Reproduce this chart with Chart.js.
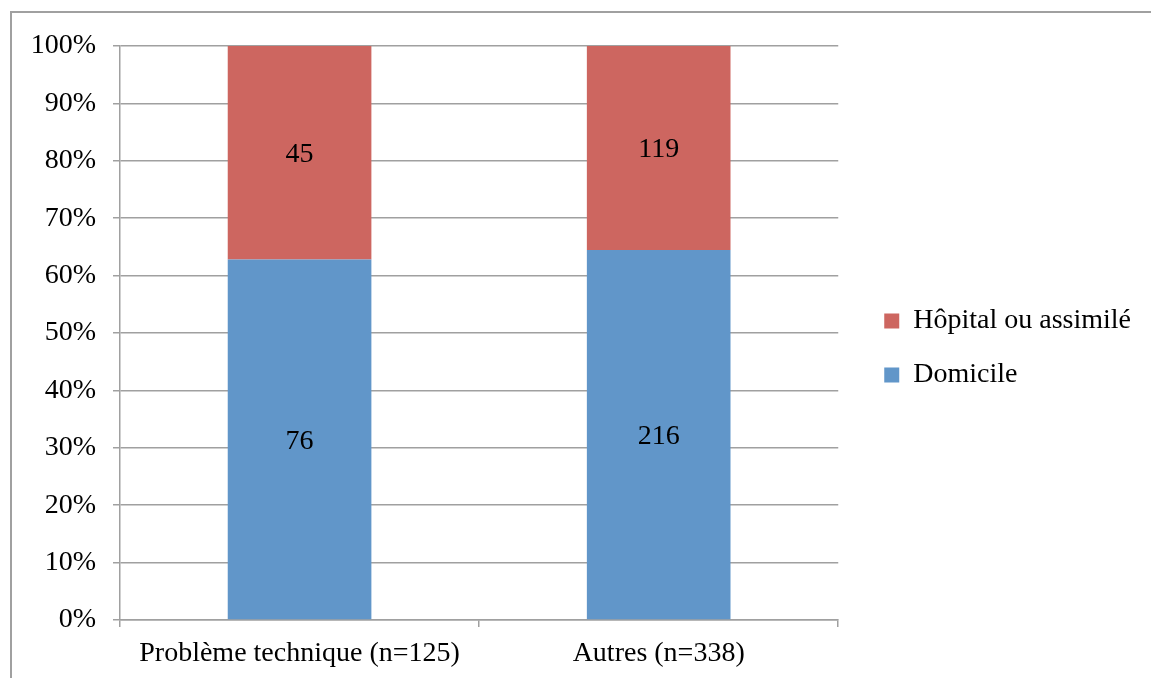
<!DOCTYPE html>
<html>
<head>
<meta charset="utf-8">
<script src="https://cdn.jsdelivr.net/npm/chart.js@4/dist/chart.umd.min.js"></script>
<style>
  html, body { margin: 0; padding: 0; background: #fff; }
  #wrap { position: relative; width: 1151px; height: 678px; overflow: hidden; }
  #frame { position: absolute; left: 10px; top: 11px; right: -10px; bottom: -10px;
           border-left: 2px solid #a0a0a0; border-top: 2px solid #a0a0a0; }
  canvas { position: absolute; left: 0; top: 0; }
</style>
</head>
<body>
<div id="wrap">
  <div id="frame"></div>
  <canvas id="chart" width="1151" height="678"></canvas>
</div>
<script>
// categories + raw counts
var categories = ['Problème technique (n=125)', 'Autres (n=338)'];
var domicile = [76, 216];
var hopital = [45, 119];
var yTicks = [0, 10, 20, 30, 40, 50, 60, 70, 80, 90, 100];

// stacked 100% : share of each category total
function pct(arr, i) {
  return arr[i] / (domicile[i] + hopital[i]) * 100;
}
var domPct = domicile.map(function (v, i) { return pct(domicile, i); });
var hopPct = hopital.map(function (v, i) { return pct(hopital, i); });

var fontFam = '"Liberation Serif", "Times New Roman", serif';
var fs = 28;
Chart.defaults.font.family = fontFam;
Chart.defaults.font.size = fs;
Chart.defaults.color = '#000';

// counts written in the middle of each segment
var segLabels = {
  id: 'segLabels',
  afterDatasetsDraw: function (chart) {
    var ctx = chart.ctx;
    ctx.save();
    ctx.font = fs + 'px ' + fontFam;
    ctx.fillStyle = '#000';
    ctx.textAlign = 'center';
    ctx.textBaseline = 'middle';
    chart.data.datasets.forEach(function (ds, di) {
      chart.getDatasetMeta(di).data.forEach(function (bar, i) {
        var p = bar.getProps(['x', 'y', 'base'], true);
        ctx.fillText(ds.counts[i], p.x, (p.y + p.base) / 2 + 2);
      });
    });
    ctx.restore();
  }
};

new Chart(document.getElementById('chart'), {
  type: 'bar',
  data: {
    labels: categories,
    datasets: [
      { label: 'Domicile', data: domPct, counts: domicile,
        backgroundColor: '#6196C9', barPercentage: 0.8, categoryPercentage: 0.5 },
      { label: 'Hôpital ou assimilé', data: hopPct, counts: hopital,
        backgroundColor: '#CD6660', barPercentage: 0.8, categoryPercentage: 0.5 }
    ]
  },
  options: {
    responsive: false,
    animation: false,
    devicePixelRatio: 1,
    layout: { padding: { top: 18, left: 0, right: 10, bottom: 0 } },
    plugins: {
      tooltip: { enabled: false },
      legend: {
        position: 'right',
        reverse: true,
        labels: { boxWidth: 15, boxHeight: 15, padding: 26, font: { size: fs }, color: '#000' }
      }
    },
    scales: {
      x: {
        stacked: true,
        afterFit: function (axis) { axis.height = 58; },
        grid: { offset: true, drawOnChartArea: false, color: '#a0a0a0', lineWidth: 1.5, tickLength: 7 },
        border: { color: '#a0a0a0', width: 1.5 },
        ticks: { padding: 10, font: { size: fs } }
      },
      y: {
        stacked: true,
        min: 0, max: 100,
        afterBuildTicks: function (axis) {
          axis.ticks = yTicks.map(function (v) { return { value: v }; });
        },
        afterFit: function (axis) { axis.width = 120; },
        grid: { color: '#a0a0a0', lineWidth: 1.5, tickLength: 7 },
        border: { color: '#a0a0a0', width: 1.5 },
        ticks: { padding: 17, font: { size: fs }, callback: function (v) { return v + '%'; } }
      },
      // hidden spacers: above the plot, and between the plot and the legend
      topGap: {
        type: 'category',
        position: 'top',
        display: false,
        afterFit: function (axis) { axis.height = 28; }
      },
      gap: {
        position: 'right',
        display: false,
        afterFit: function (axis) { axis.width = 20; }
      }
    }
  },
  plugins: [segLabels]
});
</script>
</body>
</html>
